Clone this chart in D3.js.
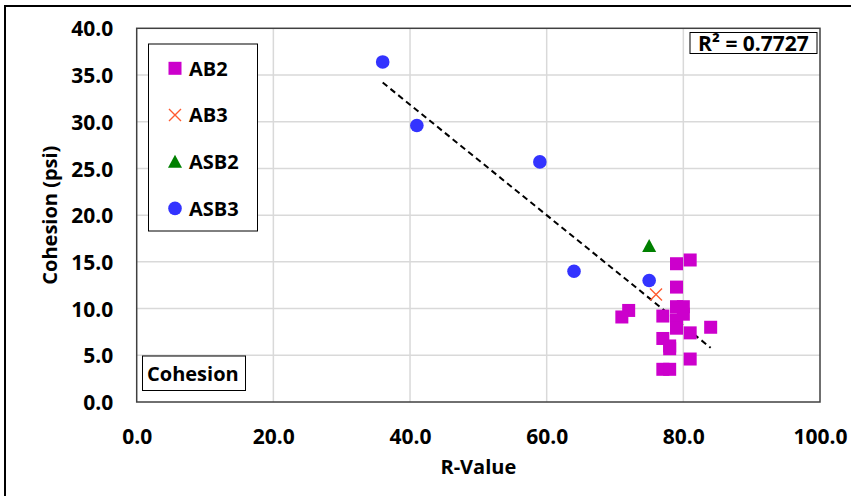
<!DOCTYPE html>
<html>
<head>
<meta charset="utf-8">
<script src="https://cdn.jsdelivr.net/npm/d3@7"></script>
<style>
  body { margin: 0; background: #fff; }
  svg text { font-family: "Open Sans", sans-serif; font-weight: bold; fill: #000; }
</style>
</head>
<body>
<svg id="chart" width="851" height="496"></svg>
<script>
// series data: [R-Value, Cohesion]
var ab2 = [[79, 14.8], [81, 15.2], [79, 12.3], [72, 9.8], [71, 9.1], [77, 9.2],
  [79, 10.2], [80, 10.2], [80, 9.4], [79, 8.8], [79, 7.9], [81, 7.4], [84, 8.0],
  [77, 6.8], [78, 6.0], [78, 5.7], [81, 4.6], [77, 3.5], [78, 3.5]];
var ab3 = [[76, 11.5]];
var asb2 = [[75, 16.7]];
var asb3 = [[36, 36.4], [41, 29.6], [59, 25.7], [64, 14.0], [75, 13.0]];
var seriesNames = ["AB2", "AB3", "ASB2", "ASB3"];
var xTicks = [0, 20, 40, 60, 80, 100];
var yTicks = [0, 5, 10, 15, 20, 25, 30, 35, 40];
var r2Label = "R\u00b2 = 0.7727";

var svg = d3.select("#chart");
var pLeft = 136.7, pRight = 820, pTop = 28.3, pBottom = 402;
var x = d3.scaleLinear().domain([0, 100]).range([pLeft, pRight]);
var y = d3.scaleLinear().domain([0, 40]).range([pBottom, pTop]);

// outer chart frame
svg.append("rect").attr("x", 5).attr("y", 6).attr("width", 860).attr("height", 500)
  .attr("fill", "none").attr("stroke", "#000").attr("stroke-width", 2);

// grid
svg.append("g").selectAll("line").data(xTicks.slice(1, -1)).join("line")
  .attr("x1", d => x(d)).attr("x2", d => x(d)).attr("y1", pTop).attr("y2", pBottom)
  .attr("stroke", "#d9d9d9").attr("stroke-width", 1.5);
svg.append("g").selectAll("line").data(yTicks.slice(1, -1)).join("line")
  .attr("y1", d => y(d)).attr("y2", d => y(d)).attr("x1", pLeft).attr("x2", pRight)
  .attr("stroke", "#d9d9d9").attr("stroke-width", 1.5);

svg.append("rect").attr("x", pLeft).attr("y", pTop).attr("width", pRight - pLeft).attr("height", pBottom - pTop)
  .attr("fill", "none").attr("stroke", "#404040").attr("stroke-width", 1.5);

// axes (labels only)
var xAxis = svg.append("g").attr("transform", "translate(0," + pBottom + ")")
  .call(d3.axisBottom(x).tickValues(xTicks).tickFormat(d3.format(".1f")).tickSize(0).tickPadding(0));
xAxis.select(".domain").remove();
xAxis.selectAll("text").attr("font-size", 21).attr("y", 41.5).attr("dy", 0);

var yAxis = svg.append("g").attr("transform", "translate(" + pLeft + ",0)")
  .call(d3.axisLeft(y).tickValues(yTicks).tickFormat(d3.format(".1f")).tickSize(0).tickPadding(0));
yAxis.select(".domain").remove();
yAxis.selectAll("text").attr("font-size", 21).attr("x", -23.5).attr("dy", "0.36em");

svg.append("text").attr("x", (pLeft + pRight) / 2).attr("y", 474).attr("text-anchor", "middle")
  .attr("font-size", 20).text("R-Value");
svg.append("text").attr("transform", "translate(57," + ((pTop + pBottom) / 2) + ") rotate(-90)")
  .attr("text-anchor", "middle").attr("font-size", 20).text("Cohesion (psi)");

// linear trendline over all points
var all = ab2.concat(ab3, asb2, asb3);
var mx = d3.mean(all, d => d[0]), my = d3.mean(all, d => d[1]);
var slope = d3.sum(all, d => (d[0] - mx) * (d[1] - my)) / d3.sum(all, d => (d[0] - mx) * (d[0] - mx));
var icpt = my - slope * mx;
var xe = d3.extent(all, d => d[0]);
svg.append("line")
  .attr("x1", x(xe[0])).attr("y1", y(icpt + slope * xe[0]))
  .attr("x2", x(xe[1])).attr("y2", y(icpt + slope * xe[1]))
  .attr("stroke", "#000").attr("stroke-width", 2).attr("stroke-dasharray", "6,4");

// markers
var colors = { AB2: "#cc00cc", AB3: "#ff5a30", ASB2: "#008000", ASB3: "#3333ff" };
function marker(g, name) {
  if (name === "AB2") {
    g.append("rect").attr("x", -6.5).attr("y", -6.5).attr("width", 13).attr("height", 13).attr("fill", colors.AB2);
  } else if (name === "AB3") {
    g.append("path").attr("d", "M-6,-6L6,6M-6,6L6,-6").attr("stroke", colors.AB3).attr("stroke-width", 1.4).attr("fill", "none");
  } else if (name === "ASB2") {
    g.append("path").attr("d", "M0,-7L7,6L-7,6Z").attr("fill", colors.ASB2);
  } else {
    g.append("circle").attr("r", 6.8).attr("fill", colors.ASB3);
  }
}
var seriesData = { AB2: ab2, AB3: ab3, ASB2: asb2, ASB3: asb3 };
seriesNames.forEach(function (name) {
  svg.append("g").selectAll("g").data(seriesData[name]).join("g")
    .attr("transform", d => "translate(" + x(d[0]) + "," + y(d[1]) + ")")
    .each(function () { marker(d3.select(this), name); });
});

// legend
svg.append("rect").attr("x", 148.5).attr("y", 44).attr("width", 109).attr("height", 187)
  .attr("fill", "#fff").attr("stroke", "#000").attr("stroke-width", 1);
seriesNames.forEach(function (name, i) {
  var g = svg.append("g").attr("transform", "translate(175," + (68.3 + i * 46.7) + ")");
  marker(g, name);
  g.append("text").attr("x", 14).attr("dy", "0.36em").attr("font-size", 20).text(name);
});

// R squared box
svg.append("rect").attr("x", 690).attr("y", 32.5).attr("width", 127).attr("height", 21)
  .attr("fill", "#fff").attr("stroke", "#000").attr("stroke-width", 1);
svg.append("text").attr("x", 753.5).attr("y", 43).attr("dy", "0.36em").attr("text-anchor", "middle")
  .attr("font-size", 21).text(r2Label);

// series label box
svg.append("rect").attr("x", 142.5).attr("y", 356).attr("width", 103).attr("height", 34.5)
  .attr("fill", "#fff").attr("stroke", "#000").attr("stroke-width", 1);
svg.append("text").attr("x", 147).attr("y", 373.3).attr("dy", "0.36em").attr("font-size", 20).text("Cohesion");
</script>
</body>
</html>
